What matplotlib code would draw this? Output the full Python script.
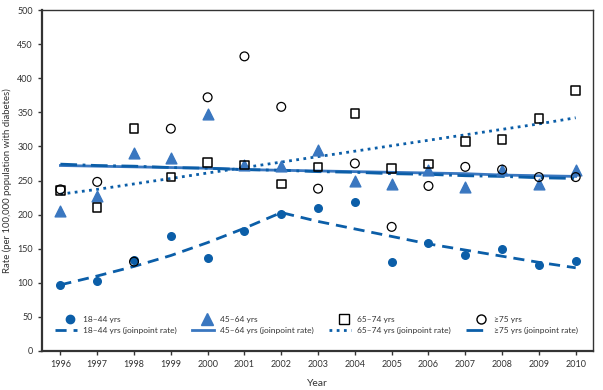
import matplotlib.pyplot as plt
from matplotlib.lines import Line2D
from matplotlib.legend_handler import HandlerLine2D

years = list(range(1996, 2011))

# observed rates (per 100,000 population with diabetes)
rate_18_44 = [97, 103, 133, 168, 137, 176, 201, 210, 218, 130, 158, 141, 149, 126, 132]
rate_45_64 = [205, 228, 290, 283, 347, 272, 271, 295, 250, 245, 266, 240, 266, 245, 265]
rate_65_74 = [235, 210, 326, 255, 276, 273, 245, 270, 348, 268, 274, 307, 310, 341, 382]
rate_75up = [237, 248, 131, 326, 372, 432, 358, 238, 275, 182, 242, 270, 266, 255, 255]

# joinpoint rates
jp_18_44 = [97, 110, 124, 140, 159, 180, 203, 190, 179, 168, 157, 148, 139, 130, 122]
jp_45_64 = [272, 271, 270, 269, 268, 266, 265, 264, 263, 262, 261, 260, 258, 257, 256]
jp_65_74 = [230, 237, 245, 253, 261, 269, 277, 285, 293, 301, 309, 317, 325, 333, 342]
jp_75up = [274, 272, 271, 269, 268, 266, 265, 263, 262, 260, 259, 257, 256, 254, 253]

dark_blue = '#0b5ea8'
mid_blue = '#3a77c0'
text_col = '#333333'


class RightMarker(HandlerLine2D):
    # put the legend marker near the label instead of centred in the handle
    def get_xdata(self, legend, xdescent, ydescent, width, height, fontsize):
        x = width - xdescent - 5
        return [x], [x]


plt.rcParams['font.family'] = ['Lato', 'DejaVu Sans']

fig = plt.figure(figsize=(6.03, 3.9), dpi=100)
ax = fig.add_axes([42 / 603, 1 - 351 / 390, 551 / 603, 341 / 390])

# joinpoint lines
ax.plot(years, jp_18_44, color=dark_blue, lw=2, linestyle=(0, (4, 2.5)), zorder=2)
ax.plot(years, jp_45_64, color=mid_blue, lw=2, linestyle='-', zorder=2)
ax.plot(years, jp_65_74, color=dark_blue, lw=2, linestyle=(0, (1, 1.6)), zorder=2)
ax.plot(years, jp_75up, color=dark_blue, lw=2, linestyle=(0, (6, 2, 1, 2)), zorder=2)

# observed points
ax.scatter(years, rate_18_44, s=30, marker='o', color=dark_blue, zorder=3)
ax.scatter(years, rate_45_64, s=60, marker='^', color=mid_blue, zorder=3)
ax.scatter(years, rate_65_74, s=38, marker='s', facecolor='none', edgecolor='black', linewidth=1.1, zorder=4)
ax.scatter(years, rate_75up, s=40, marker='o', facecolor='none', edgecolor='black', linewidth=0.9, zorder=4)

ax.set_xlim(1995.5, 2010.47)
ax.set_ylim(0, 500)
ax.set_xticks(years)
ax.set_yticks(range(0, 501, 50))
ax.tick_params(labelsize=6.5, colors=text_col, length=3, width=1)
ax.set_xlabel('Year', fontsize=7.5, color=text_col, labelpad=7)
ax.set_ylabel('Rate (per 100,000 population with diabetes)', fontsize=6.9, color=text_col)
ax.yaxis.set_label_coords(-30 / 551, 0.5)

for side in ['left', 'bottom']:
    ax.spines[side].set_linewidth(1.6)
    ax.spines[side].set_color(text_col)
for side in ['top', 'right']:
    ax.spines[side].set_linewidth(1.0)
    ax.spines[side].set_color(text_col)

handles = [
    Line2D([0], [0], marker='o', color=dark_blue, linestyle='None', markersize=6),
    Line2D([0], [0], color=dark_blue, lw=2, linestyle=(0, (4, 2.5))),
    Line2D([0], [0], marker='^', color=mid_blue, linestyle='None', markersize=8),
    Line2D([0], [0], color=mid_blue, lw=2, linestyle='-'),
    Line2D([0], [0], marker='s', markerfacecolor='none', markeredgecolor='black', linestyle='None', markersize=6.5),
    Line2D([0], [0], color=dark_blue, lw=2, linestyle=(0, (1, 1.6))),
    Line2D([0], [0], marker='o', markerfacecolor='none', markeredgecolor='black', linestyle='None', markersize=6.5),
    Line2D([0], [0], color=dark_blue, lw=2, linestyle=(0, (6, 2, 1, 2))),
]
labels = [
    '18–44 yrs', '18–44 yrs (joinpoint rate)',
    '45–64 yrs', '45–64 yrs (joinpoint rate)',
    '65–74 yrs', '65–74 yrs (joinpoint rate)',
    '≥75 yrs', '≥75 yrs (joinpoint rate)',
]
hmap = {h: RightMarker() for h in handles[0::2]}
ax.legend(handles, labels, ncol=4, loc='lower left', bbox_to_anchor=(0.01, 0.027),
          frameon=False, fontsize=6.0, handlelength=2.6, columnspacing=1.9,
          handletextpad=0.7, labelspacing=0.55, labelcolor=text_col,
          handler_map=hmap)

fig.savefig('out.png', dpi=100)
